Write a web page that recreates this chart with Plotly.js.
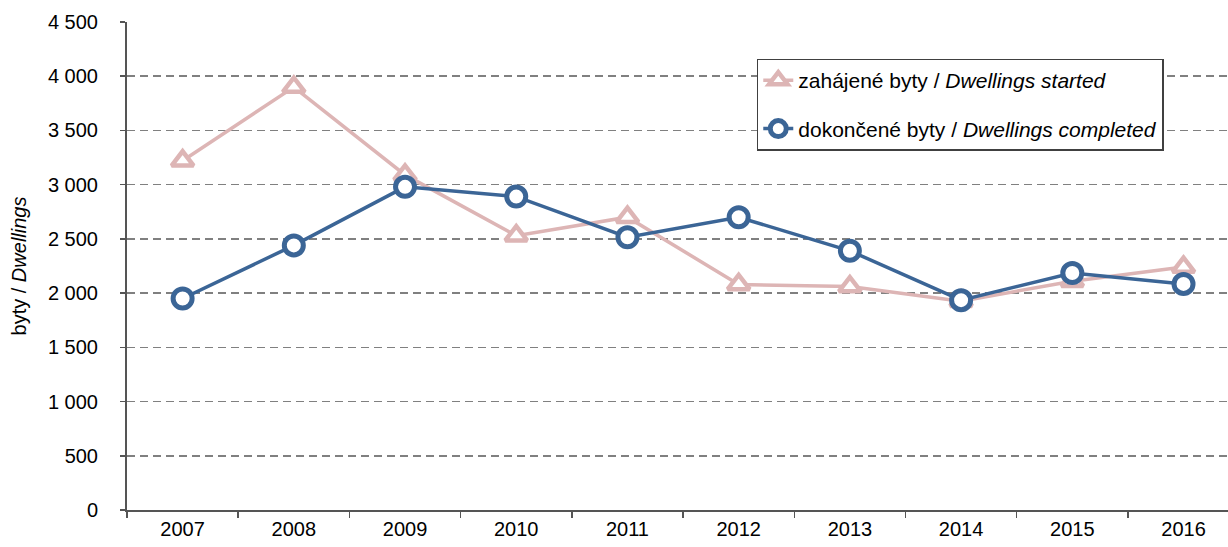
<!DOCTYPE html>
<html>
<head>
<meta charset="utf-8">
<script src="https://cdn.plot.ly/plotly-3.0.1.min.js"></script>
<style>
html,body{margin:0;padding:0;overflow:hidden;background:#fff;}
#chart{width:1228px;height:547px;}
</style>
</head>
<body>
<div id="chart"></div>
<script>
const years = ['2007','2008','2009','2010','2011','2012','2013','2014','2015','2016'];
const started = [3220, 3900, 3090, 2530, 2700, 2080, 2060, 1925, 2110, 2240];
const completed = [1950, 2440, 2980, 2890, 2515, 2700, 2390, 1935, 2185, 2085];
const startedName = 'zahájené byty / <i>Dwellings started</i>';
const completedName = 'dokončené byty / <i>Dwellings completed</i>';
const yTitle = 'byty / <i>Dwellings</i>';

const FONT = '"Liberation Sans", Arial, sans-serif';

const traces = [
  {
    x: years, y: started, name: startedName, type: 'scatter', mode: 'lines+markers',
    legendgroup: 'a',
    line: {color: '#DDB5B5', width: 3.5},
    marker: {symbol: 'triangle-up', size: 19, color: '#ffffff', line: {color: '#DDB5B5', width: 4.5}}
  },
  {
    x: years, y: completed, name: completedName, type: 'scatter', mode: 'lines+markers',
    legendgroup: 'b',
    line: {color: '#3B6596', width: 3.5},
    marker: {symbol: 'circle', size: 19, color: '#ffffff', line: {color: '#3B6596', width: 5}}
  }
];

const layout = {
  width: 1228, height: 547,
  margin: {l: 127, r: 0, t: 22, b: 37, pad: 0},
  paper_bgcolor: '#ffffff', plot_bgcolor: '#ffffff',
  separators: ', ',
  font: {family: FONT, size: 20, color: '#000'},
  showlegend: true,
  legend: {
    x: 0.572, y: 0.925, xanchor: 'left', yanchor: 'top',
    bgcolor: '#ffffff', bordercolor: '#404040', borderwidth: 1.5,
    font: {family: FONT, size: 21, color: '#000'},
    traceorder: 'grouped', tracegroupgap: 18
  },
  xaxis: {
    type: 'category', range: [-0.5, 9.4],
    tickson: 'boundaries', ticks: 'outside', ticklen: 6, tickwidth: 1.5, tickcolor: '#555',
    showline: true, linecolor: '#555', linewidth: 2,
    showgrid: false, zeroline: false,
    tickfont: {family: FONT, size: 20, color: '#000'}
  },
  yaxis: {
    range: [0, 4500], dtick: 500, tick0: 0, tickformat: ',d',
    ticks: 'outside', ticklen: 5, tickwidth: 1.5, tickcolor: '#555',
    showline: true, linecolor: '#555', linewidth: 2,
    showgrid: true, gridcolor: '#808080', gridwidth: 1.5, griddash: '8px,5px',
    zeroline: false,
    tickfont: {family: FONT, size: 20, color: '#000'},
    ticklabelstandoff: 18,
    title: {text: yTitle, font: {family: FONT, size: 20, color: '#000'}, standoff: 16}
  }
};

Plotly.newPlot('chart', traces, layout, {staticPlot: true, displayModeBar: false});
</script>
</body>
</html>
